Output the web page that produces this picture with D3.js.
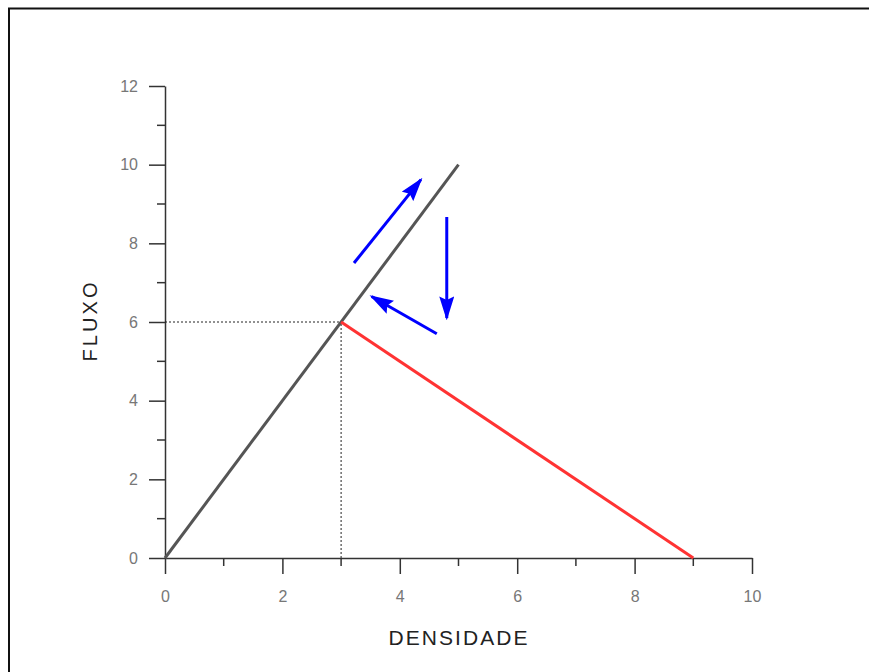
<!DOCTYPE html>
<html>
<head>
<meta charset="utf-8">
<script src="https://cdn.jsdelivr.net/npm/d3@7"></script>
<style>
  body { margin: 0; background: #fff; }
  svg { display: block; font-family: "Liberation Sans", Arial, sans-serif; }
</style>
</head>
<body>
<svg id="chart" width="869" height="672"></svg>
<script>
// data
const xTicks = [0, 2, 4, 6, 8, 10];
const yTicks = [0, 2, 4, 6, 8, 10, 12];
const xMinor = [1, 3, 5, 7, 9];
const yMinor = [1, 3, 5, 7, 9, 11];
const fluxLine = [[0, 0], [5, 10]];          // gray
const congested = [[3, 6], [9, 0]];          // red
const guideH = [[0, 6], [3, 6]];
const guideV = [[3, 0], [3, 6]];
const arrows = [
  [[3.22, 7.5], [4.36, 9.62]],
  [[4.8, 8.67], [4.8, 6.1]],
  [[4.63, 5.7], [3.52, 6.65]]
];

const svg = d3.select('#chart');

// frame
svg.append('path')
  .attr('d', 'M9,672 V8.5 H869')
  .attr('fill', 'none').attr('stroke', '#111').attr('stroke-width', 2);

const x = d3.scaleLinear().domain([0, 10]).range([165, 752]);
const y = d3.scaleLinear().domain([0, 12]).range([558, 86]);

const defs = svg.append('defs');
defs.append('marker')
  .attr('id', 'head')
  .attr('viewBox', '0 0 10 10')
  .attr('refX', 9).attr('refY', 5)
  .attr('markerWidth', 8).attr('markerHeight', 5)
  .attr('markerUnits', 'strokeWidth')
  .attr('orient', 'auto')
  .attr('preserveAspectRatio', 'none')
  .append('path').attr('d', 'M0,0 L10,5 L0,10 L1.5,5 Z').attr('fill', '#0000ff');

// axes
const xAxis = svg.append('g').attr('transform', `translate(0,${y(0)})`)
  .call(d3.axisBottom(x).tickValues(xTicks).tickSize(16).tickPadding(22).tickSizeOuter(0));
xAxis.append('g').selectAll('line').data(xMinor).join('line')
  .attr('x1', d => x(d)).attr('x2', d => x(d)).attr('y1', 0).attr('y2', 8);

const yAxis = svg.append('g').attr('transform', `translate(${x(0)},0)`)
  .call(d3.axisLeft(y).tickValues(yTicks).tickSize(16).tickPadding(11).tickSizeOuter(0));
yAxis.append('g').selectAll('line').data(yMinor).join('line')
  .attr('x1', 0).attr('x2', -8).attr('y1', d => y(d)).attr('y2', d => y(d));

svg.selectAll('.domain').attr('stroke', '#333').attr('stroke-width', 1.5);
svg.selectAll('.tick line, g > g > line').attr('stroke', '#333').attr('stroke-width', 1.5);
svg.selectAll('.tick text').attr('font-size', 16).attr('fill', '#777')
  .attr('font-family', '"Liberation Sans", Arial, sans-serif');
xAxis.selectAll('.tick text').attr('dy', '0.35em');

const line = d3.line().x(d => x(d[0])).y(d => y(d[1]));

// guides
[guideH, guideV].forEach(g => {
  svg.append('path').attr('d', line(g))
    .attr('fill', 'none').attr('stroke', '#222').attr('stroke-width', 1)
    .attr('stroke-dasharray', '2,2');
});

svg.append('path').attr('d', line(fluxLine))
  .attr('fill', 'none').attr('stroke', '#555').attr('stroke-width', 3);
svg.append('path').attr('d', line(congested))
  .attr('fill', 'none').attr('stroke', '#ff3333').attr('stroke-width', 3);

svg.append('g').selectAll('path').data(arrows).join('path')
  .attr('d', line)
  .attr('fill', 'none').attr('stroke', '#0000ff').attr('stroke-width', 3)
  .attr('marker-end', 'url(#head)');

// titles
svg.append('text').attr('x', 458).attr('y', 645)
  .attr('text-anchor', 'middle').attr('font-size', 21).attr('fill', '#222')
  .attr('textLength', 139).attr('lengthAdjust', 'spacing')
  .text('DENSIDADE');
svg.append('text')
  .attr('transform', 'translate(97,322) rotate(-90)')
  .attr('text-anchor', 'middle').attr('font-size', 20).attr('fill', '#222')
  .attr('textLength', 79).attr('lengthAdjust', 'spacing')
  .text('FLUXO');
</script>
</body>
</html>
